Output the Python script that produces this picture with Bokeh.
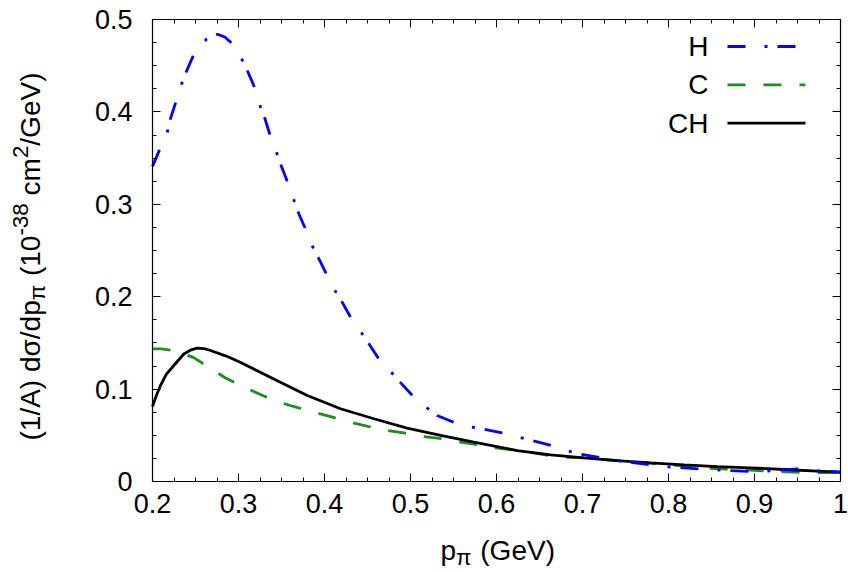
import math
import numpy as np
from bokeh.plotting import figure
from bokeh.models import Range1d, LinearAxis, FixedTicker, Label, Arrow
from bokeh.embed import file_html
from bokeh.resources import INLINE

# ---------------- data ----------------
h_x = [0.200, 0.2178, 0.221, 0.2276, 0.2345, 0.2395, 0.248, 0.263, 0.2756, 0.284,
       0.2927, 0.305, 0.311, 0.319, 0.326, 0.331, 0.337, 0.345, 0.350, 0.357,
       0.365, 0.370, 0.378, 0.387, 0.3935, 0.402, 0.410, 0.4206, 0.432, 0.440,
       0.4516, 0.465, 0.475, 0.4884, 0.5047, 0.5155, 0.531, 0.5535, 0.568, 0.589,
       0.610, 0.636, 0.660, 0.692, 0.720, 0.740, 0.771, 0.796, 0.836, 0.868,
       0.903, 0.925, 0.950, 0.970, 1.000]
h_y = [0.341, 0.380, 0.393, 0.412, 0.432, 0.444, 0.462, 0.479, 0.484, 0.481,
       0.474, 0.455, 0.443, 0.426, 0.404, 0.392, 0.374, 0.354, 0.341, 0.324,
       0.303, 0.290, 0.273, 0.2525, 0.241, 0.225, 0.210, 0.194, 0.175, 0.165,
       0.149, 0.130, 0.121, 0.107, 0.0906, 0.0823, 0.0714, 0.0628, 0.0595, 0.056,
       0.052, 0.0455, 0.040, 0.0306, 0.026, 0.0227, 0.019, 0.016, 0.0137, 0.012,
       0.0105, 0.012, 0.0137, 0.012, 0.010]

c_x = [0.200, 0.210, 0.2248, 0.248, 0.2655, 0.285, 0.302, 0.3236, 0.341, 0.364,
       0.384, 0.405, 0.430, 0.4515, 0.473, 0.494, 0.513, 0.537, 0.558, 0.579,
       0.599, 0.618, 0.638, 0.661, 0.680, 0.7035, 0.723, 0.760, 0.800, 0.836,
       0.870, 0.920, 0.960, 1.000]
c_y = [0.1436, 0.1435, 0.1418, 0.134, 0.1237, 0.112, 0.104, 0.0949, 0.0877, 0.0812,
       0.0761, 0.0707, 0.0642, 0.0595, 0.0552, 0.0523, 0.0487, 0.0462, 0.0425, 0.0397,
       0.0365, 0.0343, 0.0317, 0.0281, 0.0263, 0.0256, 0.0241, 0.021, 0.0185, 0.0148,
       0.0135, 0.011, 0.0098, 0.0095]

ch_x = [0.200, 0.2045, 0.2093, 0.216, 0.2248, 0.2364, 0.245, 0.252, 0.260, 0.2674,
        0.285, 0.302, 0.341, 0.380, 0.4186, 0.4574, 0.496, 0.535, 0.5736, 0.624,
        0.663, 0.7015, 0.740, 0.779, 0.818, 0.8566, 0.895, 0.934, 0.973, 1.000]
ch_y = [0.0812, 0.093, 0.1039, 0.116, 0.1255, 0.138, 0.1425, 0.1443, 0.1437, 0.1418,
        0.136, 0.129, 0.111, 0.093, 0.0787, 0.0679, 0.0577, 0.0498, 0.0425, 0.0335,
        0.0289, 0.0256, 0.0227, 0.0202, 0.018, 0.0162, 0.0148, 0.013, 0.0112, 0.0101]

x_ticks = [0.2, 0.3, 0.4, 0.5, 0.6, 0.7, 0.8, 0.9, 1.0]
x_tick_labels = ["0.2", "0.3", "0.4", "0.5", "0.6", "0.7", "0.8", "0.9", "1"]
y_ticks = [0.0, 0.1, 0.2, 0.3, 0.4, 0.5]
y_tick_labels = ["0", "0.1", "0.2", "0.3", "0.4", "0.5"]

series_names = ["H", "C", "CH"]

# ---------------- layout constants (pixels) ----------------
FONT = "Liberation Sans"
FS = 28
TICK_FS = 27
W, H = 848, 572
BOX_L, BOX_R, BOX_T, BOX_B = 152, 840, 19, 481   # plot box in canvas pixels
X0, X1, Y0, Y1 = 0.2, 1.0, 0.0, 0.5              # axis limits of the box

sx = (BOX_R - BOX_L) / (X1 - X0)
sy = (BOX_B - BOX_T) / (Y1 - Y0)
xr = Range1d(X0 - BOX_L / sx, X1 + (W - BOX_R) / sx)
yr = Range1d(Y0 - (H - BOX_B) / sy, Y1 + BOX_T / sy)

p = figure(width=W, height=H, output_backend="svg", toolbar_location=None,
           x_range=xr, y_range=yr, min_border=0,
           min_border_left=0, min_border_right=0, min_border_top=0,
           min_border_bottom=0)
p.xgrid.visible = False
p.ygrid.visible = False
p.outline_line_color = None
p.background_fill_color = "white"
p.border_fill_color = "white"

bottom = p.below[0]
left = p.left[0]
top = LinearAxis()
right = LinearAxis()
p.add_layout(top, "above")
p.add_layout(right, "right")

x_minor = [round(v, 4) for v in np.arange(0.2, 1.0001, 0.025)]
y_minor = [round(v, 4) for v in np.arange(0.0, 0.5001, 0.025)]

def style(ax, ticks, minor, labels, loc, bounds):
    ax.fixed_location = loc
    ax.bounds = bounds
    ax.ticker = FixedTicker(ticks=ticks, minor_ticks=minor)
    ax.major_label_overrides = {t: l for t, l in zip(ticks, labels)}
    ax.axis_line_color = "black"
    ax.axis_line_width = 1.2
    ax.major_tick_in = 8
    ax.major_tick_out = 0
    ax.minor_tick_in = 4
    ax.minor_tick_out = 0
    ax.major_tick_line_color = "black"
    ax.minor_tick_line_color = "black"
    ax.major_tick_line_width = 1
    ax.minor_tick_line_width = 1
    ax.major_label_text_font = FONT
    ax.major_label_text_font_size = f"{TICK_FS}px"
    ax.major_label_text_color = "black"

style(bottom, x_ticks, x_minor, x_tick_labels, Y0, (X0, X1))
style(left, y_ticks, y_minor, y_tick_labels, X0, (Y0, Y1))
style(top, x_ticks, x_minor, ["" for _ in x_ticks], Y1, (X0, X1))
style(right, y_ticks, y_minor, ["" for _ in y_ticks], X1, (Y0, Y1))
bottom.major_label_standoff = 12
left.major_label_standoff = 20

# curves
p.line(c_x, c_y, line_color="#228B22", line_width=2.8, line_dash="18 18")
p.line(ch_x, ch_y, line_color="black", line_width=2.8)
p.line(h_x, h_y, line_color="#0000FF", line_width=2.8, line_dash="18 19 3 10")

# ---------------- text helpers ----------------
ADV = {' ': 0.278, '(': 0.333, ')': 0.333, '/': 0.278, '1': 0.556, '0': 0.556,
       '2': 0.556, '3': 0.556, '8': 0.556, '-': 0.333, 'A': 0.667, 'd': 0.556,
       'p': 0.556, 'c': 0.5, 'm': 0.833, 'G': 0.778, 'e': 0.556, 'V': 0.667,
       'σ': 0.617, 'π': 0.6, 'H': 0.722, 'C': 0.722}

def width(s, fs):
    return sum(ADV.get(ch, 0.556) for ch in s) * fs

SUB_SHIFT = 7       # centre offset of a subscript (pixels, away from the top)
SUP_SHIFT = 10.5    # centre offset of a superscript (pixels, toward the top)
SCALE = 0.8
SPACE = ADV[' '] * FS

def rich_text(parts, x0, y0, vertical):
    # parts: (text, kind, space_before); x0/y0 = centre line of normal text
    cur = 0.0
    for txt, kind, gap in parts:
        cur += gap
        fs = FS if kind == "n" else FS * SCALE
        shift = 0 if kind == "n" else (SUB_SHIFT if kind == "sub" else -SUP_SHIFT)
        if vertical:
            lx, ly, ang = x0 + shift, y0 - cur, math.pi / 2
        else:
            lx, ly, ang = x0 + cur, y0 + shift, 0
        p.add_layout(Label(x=lx, y=ly, x_units="canvas", y_units="canvas",
                           text=txt, angle=ang, text_align="left",
                           text_baseline="middle", text_font=FONT,
                           text_font_size=f"{fs:.1f}px", text_color="black"))
        cur += width(txt, fs)
        if kind == "sub":
            cur += 3

# y-axis title
rich_text([("(1/A) dσ/dp", "n", 0), ("π", "sub", 0), ("(10", "n", SPACE),
           ("-38", "sup", 0), ("cm", "n", SPACE), ("2", "sup", 0),
           ("/GeV)", "n", 0)], 30, 440, True)
# x-axis title
rich_text([("p", "n", 0), ("π", "sub", 0), ("(GeV)", "n", SPACE)], 440, 550, False)

# ---------------- key (gnuplot style: text then sample) ----------------
key_colors = ["#0000FF", "#228B22", "black"]
key_dash = ["18 19 3 10", "18 18", "solid"]
row_y = [46, 84.3, 122.7]
for name, col, dash, ry in zip(series_names, key_colors, key_dash, row_y):
    p.add_layout(Label(x=708, y=ry, x_units="canvas", y_units="canvas",
                       text=name, text_align="right", text_baseline="middle",
                       text_font=FONT, text_font_size=f"{FS}px", text_color="black"))
    p.add_layout(Arrow(end=None, x_start=727, y_start=ry, x_end=805, y_end=ry,
                       start_units="canvas", end_units="canvas",
                       line_color=col, line_width=2.8, line_dash=dash))

open("out.html", "w").write(file_html(p, INLINE))
